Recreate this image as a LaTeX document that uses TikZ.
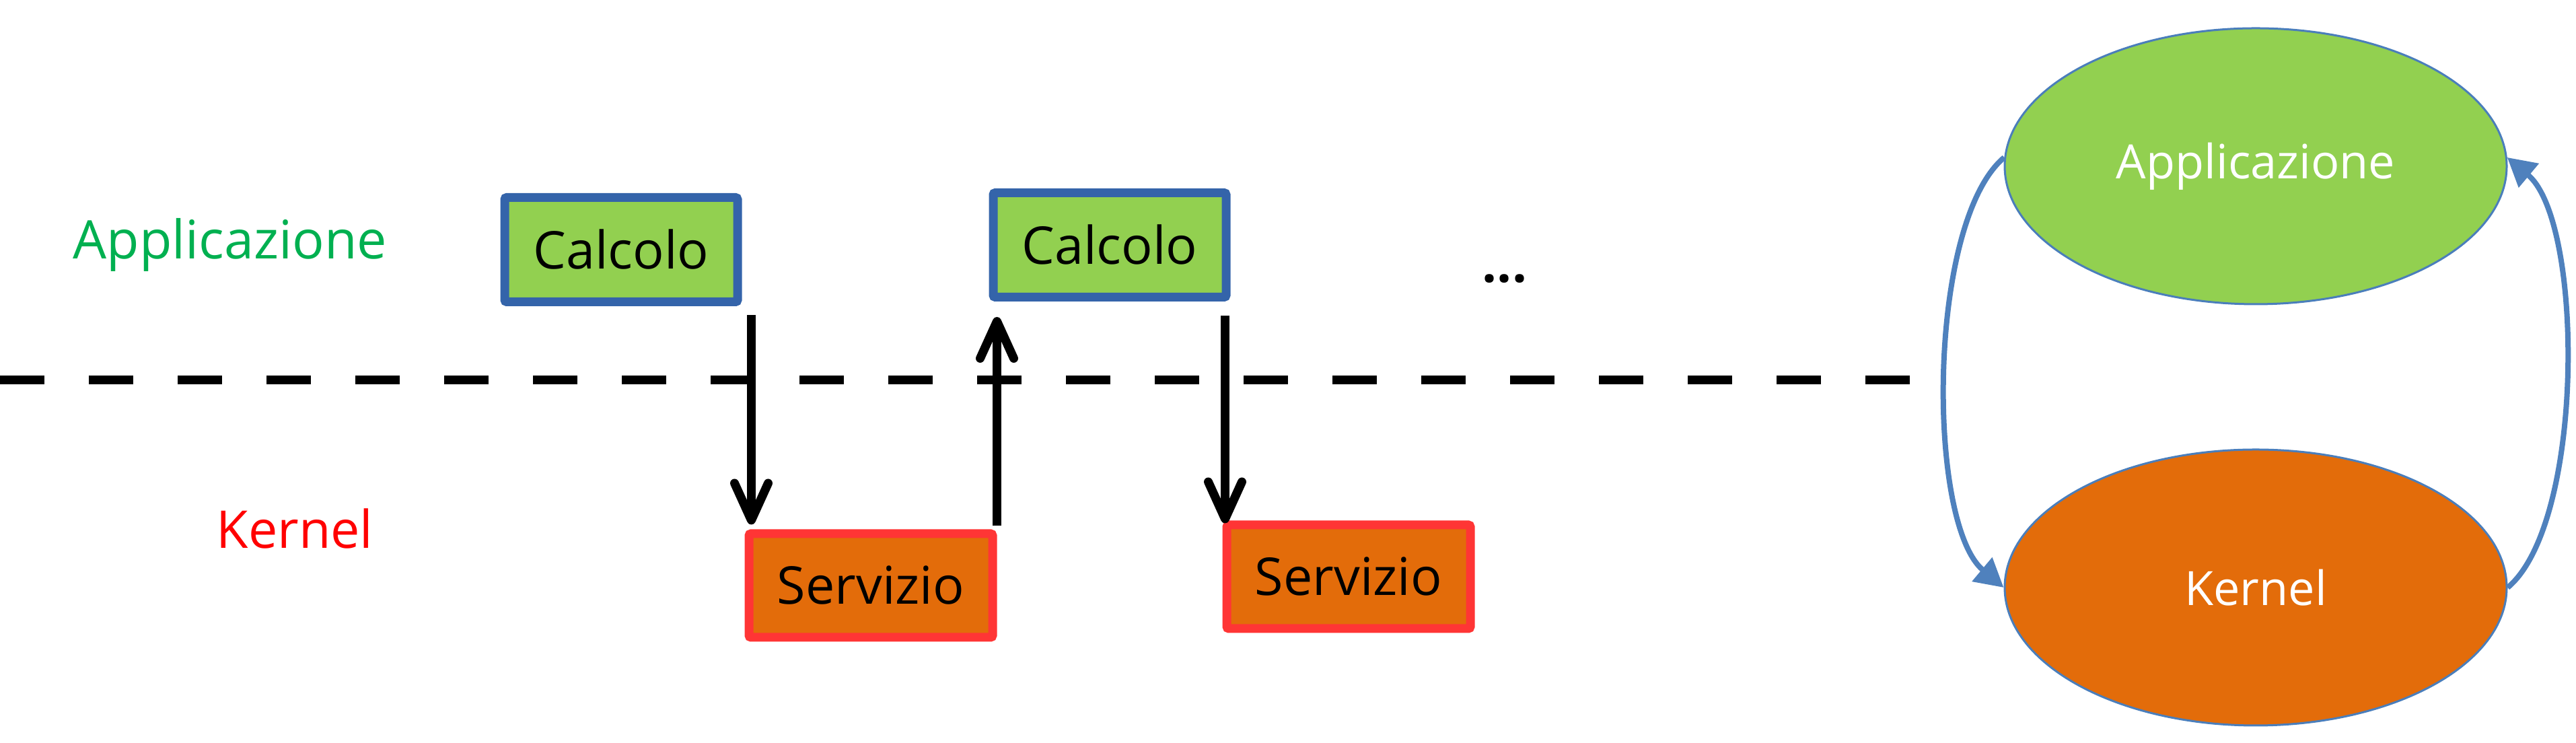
\documentclass[tikz,border=0pt]{standalone}
\usepackage{fontspec}
\setmainfont{Open Sans}
\usetikzlibrary{arrows.meta,calc,shapes.geometric}
\definecolor{verdecalc}{HTML}{92D050}
\definecolor{bluecalc}{HTML}{3464AA}
\definecolor{arancio}{HTML}{E36C0A}
\definecolor{rossoserv}{HTML}{FF3535}
\definecolor{verdetxt}{HTML}{00B050}
\definecolor{rossotxt}{HTML}{FF0000}
\definecolor{blucurva}{HTML}{4F81BD}
\definecolor{bordoovale}{HTML}{4A7EBB}

\begin{document}
\begin{tikzpicture}[
  calcolobox/.style={draw=bluecalc,fill=verdecalc,line width=0.13cm,rounded corners=0.03cm,minimum width=3.46cm,minimum height=1.55cm,font=\fontsize{22}{26}\selectfont},
  serviziobox/.style={draw=rossoserv,fill=arancio,line width=0.13cm,rounded corners=0.03cm,minimum width=3.62cm,minimum height=1.54cm,font=\fontsize{22}{26}\selectfont},
  freccia/.style={line width=0.13cm,-{Straight Barb[length=0.55cm,width=0.5cm,round]}},
  ovale/.style={ellipse,draw=bordoovale,line width=0.03cm,minimum width=7.46cm,minimum height=4.1cm,text=white,font=\fontsize{20}{24}\selectfont},
  ciclo/.style={draw=blucurva,line width=0.08cm,-{Triangle[length=0.42cm,width=0.45cm]}}
]
\useasboundingbox (0,0) rectangle (38.28,11.04);

\node[text=verdetxt,anchor=base,font=\fontsize{22.5}{26}\selectfont] (lblapp) at (3.42,7.19) {Applicazione};
\node[text=rossotxt,anchor=base,font=\fontsize{22}{26}\selectfont] (lblkern) at (4.38,2.89) {Kernel};
\node[calcolobox] (calc1) at (9.23,7.33) {Calcolo};
\node[calcolobox] (calc2) at (16.49,7.40) {Calcolo};
\node[serviziobox] (serv1) at (12.94,2.34) {Servizio};
\node[serviziobox] (serv2) at (20.04,2.47) {Servizio};
\node[anchor=base,inner sep=0pt,font=\fontsize{22}{26}\selectfont\bfseries] (dots) at (22.36,6.84) {...};
\node[ovale,fill=verdecalc] (app) at (33.52,8.57) {Applicazione};
\node[ovale,fill=arancio] (kern) at (33.52,2.31) {Kernel};

\coordinate (sepsx) at (0,5.39); \coordinate (sepdx) at (28.38,5.39);
\draw[line width=0.13cm,dash pattern=on 0.66cm off 0.66cm] (sepsx) -- (sepdx);

\draw[freccia] ($(serv1.north west |- calc1.south)+(0.1,-0.13)$) -- ($(serv1.north west)+(0.1,0.07)$);
\draw[freccia] ($(serv1.north east)+(0,0.05)$) -- ($(serv1.north east |- calc2.south)+(0,-0.23)$);
\draw[freccia] ($(calc2.south east)+(-0.08,-0.21)$) -- ($(calc2.south east |- serv2.north)+(-0.08,-0.04)$);

\draw[ciclo] (app.178) to[out=220,in=140,looseness=0.6] (kern.west);
\draw[ciclo] (kern.east) to[out=40,in=-40,looseness=0.6] (app.2);
\end{tikzpicture}
\end{document}
